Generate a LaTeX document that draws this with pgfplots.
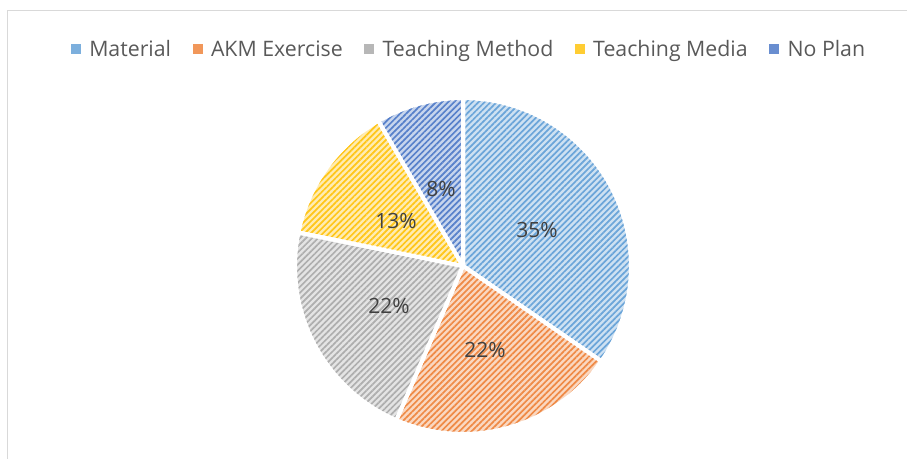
\documentclass[border=0pt]{standalone}
\usepackage{pgfplots}
\pgfplotsset{compat=1.18}
\usetikzlibrary{patterns.meta}
\usepackage{fontspec}
\setmainfont{Open Sans}
\definecolor{cMat}{HTML}{5B9BD5}
\definecolor{cAKM}{HTML}{ED7D31}
\definecolor{cTM}{HTML}{A5A5A5}
\definecolor{cMed}{HTML}{FFC000}
\definecolor{cNo}{HTML}{4472C4}
\definecolor{txt}{HTML}{404040}
\definecolor{legtxt}{HTML}{595959}
\definecolor{frame}{HTML}{D9D9D9}
% shares in percent (sum 100)
\def\pA{34.6}\def\pB{21.9}\def\pC{21.7}\def\pD{13.4}\def\pE{8.4}
\pgfmathsetmacro{\aA}{90}
\pgfmathsetmacro{\aB}{\aA-3.6*\pA}
\pgfmathsetmacro{\aC}{\aB-3.6*\pB}
\pgfmathsetmacro{\aD}{\aC-3.6*\pC}
\pgfmathsetmacro{\aE}{\aD-3.6*\pD}
\pgfmathsetmacro{\aF}{\aE-3.6*\pE}
\pgfplotsset{wedge/.style={draw=white, line width=4bp, line join=round,
  preaction={fill=#1!30}, pattern={Lines[angle=45,distance=4.3bp,line width=1.7bp]},
  pattern color=#1!90, data cs=polar, samples=90, forget plot}}
\newcommand{\legsq}[1]{\addlegendimage{legend image code/.code={\fill[#1!80] (0bp,-4.5bp) rectangle (9bp,4.5bp);}}}
\begin{document}
\begin{tikzpicture}
\begin{axis}[
  scale only axis, width=907bp, height=459bp,
  xmin=-463, xmax=444, ymin=-193, ymax=266,
  hide axis, clip=false,
  legend columns=-1,
  legend style={at={(axis cs:5,217)}, anchor=center, draw=none, fill=none,
    font=\fontsize{21.3bp}{26bp}\selectfont, text=legtxt,
    nodes={inner sep=0bp},
    /tikz/every odd column/.append style={column sep=9bp},
    /tikz/every even column/.append style={column sep=21.5bp}},
  ]
\draw[frame, line width=1.5bp] (axis cs:-455.5,-193) -- (axis cs:-455.5,255.5) -- (axis cs:444,255.5);
\legsq{cMat}\addlegendentry{Material}
\legsq{cAKM}\addlegendentry{AKM Exercise}
\legsq{cTM}\addlegendentry{Teaching Method}
\legsq{cMed}\addlegendentry{Teaching Media}
\legsq{cNo}\addlegendentry{No Plan}
\addplot[wedge=cMat, domain=\aB:\aA] {168} -- (axis cs:0,0) -- cycle;
\addplot[wedge=cAKM, domain=\aC:\aB] {168} -- (axis cs:0,0) -- cycle;
\addplot[wedge=cTM, domain=\aD:\aC] {168} -- (axis cs:0,0) -- cycle;
\addplot[wedge=cMed, domain=\aE:\aD] {168} -- (axis cs:0,0) -- cycle;
\addplot[wedge=cNo, domain=\aF:\aE] {168} -- (axis cs:0,0) -- cycle;
\begin{scope}[every node/.style={font=\fontsize{21bp}{26bp}\selectfont, text=txt, anchor=center}]
\node at (axis cs:74,36) {35\%};
\node at (axis cs:22,-84) {22\%};
\node at (axis cs:-74,-40) {22\%};
\node at (axis cs:-67,45) {13\%};
\node at (axis cs:-22,77) {8\%};
\end{scope}
\end{axis}
\pgfresetboundingbox
\path (current axis.south west) rectangle (current axis.north east);
\end{tikzpicture}
\end{document}
